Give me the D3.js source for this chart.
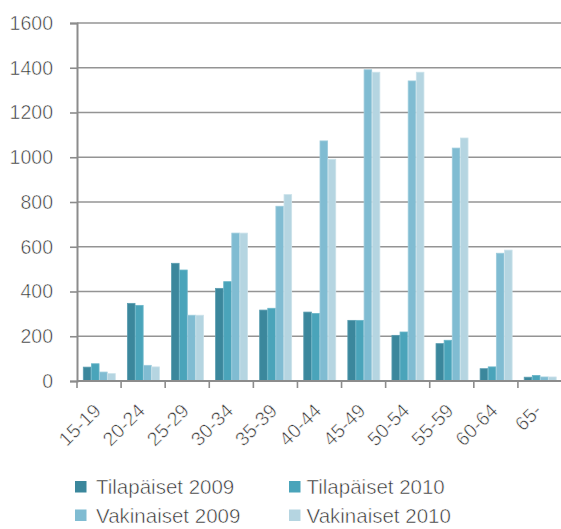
<!DOCTYPE html>
<html>
<head>
<meta charset="utf-8">
<script src="https://cdn.jsdelivr.net/npm/d3@7"></script>
<style>
  html, body { margin: 0; padding: 0; background: #fff; }
  svg { display: block; }
  /* light-looking labels: white outline drawn over the fill thins the glyph strokes */
  text { font-family: "Liberation Sans", Arial, sans-serif; fill: #2f2f2f; stroke: #fff; stroke-width: 0.55px; }
</style>
</head>
<body>
<svg id="chart" width="561" height="529"></svg>
<script>
// Age groups
const categories = ["15-19", "20-24", "25-29", "30-34", "35-39", "40-44", "45-49", "50-54", "55-59", "60-64", "65-"];

// Series names
const seriesNames = ["Tilapäiset 2009", "Tilapäiset 2010", "Vakinaiset 2009", "Vakinaiset 2010"];

// Values per series, in age-group order
const tilapaiset2009 = [62, 347, 526, 414, 317, 308, 271, 204, 167, 55, 17];
const tilapaiset2010 = [77, 338, 496, 444, 325, 302, 271, 219, 182, 63, 25];
const vakinaiset2009 = [40, 70, 294, 661, 781, 1073, 1391, 1341, 1041, 571, 18];
const vakinaiset2010 = [33, 63, 294, 661, 833, 991, 1380, 1380, 1086, 585, 18];

// Y axis ticks
const yTicks = [0, 200, 400, 600, 800, 1000, 1200, 1400, 1600];

const seriesColors = ["#3b879c", "#4aa4ba", "#80bcd2", "#b5d5e1"];
const seriesEdges  = ["#5b9db0", "#6ab6c9", "#9ccbdc", "#cbe2ea"];

const seriesValues = [tilapaiset2009, tilapaiset2010, vakinaiset2009, vakinaiset2010];

const svg = d3.select("#chart");

const plotLeft = 77, plotRight = 562, plotTop = 23, plotBottom = 381;

const x = d3.scaleBand()
  .domain(categories)
  .range([plotLeft, plotRight])
  .paddingInner(0.263)
  .paddingOuter(0.1315);

const xs = d3.scaleBand()
  .domain(seriesNames)
  .range([0, x.bandwidth()]);

const y = d3.scaleLinear()
  .domain([0, 1600])
  .range([plotBottom, plotTop]);

// Horizontal gridlines
svg.append("g")
  .selectAll("line")
  .data(yTicks.filter(t => t > 0))
  .join("line")
  .attr("x1", plotLeft)
  .attr("x2", 561)
  .attr("y1", d => y(d))
  .attr("y2", d => y(d))
  .attr("stroke", "#949494")
  .attr("stroke-width", 1.6);

// Bars
const groups = svg.append("g")
  .selectAll("g")
  .data(categories)
  .join("g")
  .attr("transform", d => `translate(${x(d)},0)`);

groups.selectAll("rect")
  .data((c, i) => seriesNames.map((s, k) => ({ s, k, v: seriesValues[k][i] })))
  .join("rect")
  .attr("x", d => xs(d.s) + 0.5)
  .attr("width", xs.bandwidth() - 0.5)
  .attr("y", d => y(d.v))
  .attr("height", d => y(0) - y(d.v))
  .attr("fill", d => seriesColors[d.k])
  .attr("stroke", d => seriesEdges[d.k])
  .attr("stroke-width", 0.8);

// Y axis
const yAxis = d3.axisLeft(y)
  .tickValues(yTicks)
  .tickSize(7)
  .tickPadding(17)
  .tickFormat(d3.format("d"));

const gy = svg.append("g")
  .attr("transform", `translate(${plotLeft},0)`)
  .call(yAxis)
  .attr("font-family", null)
  .attr("font-size", null);
gy.select(".domain").attr("stroke", "#8c8c8c").attr("stroke-width", 2);
gy.selectAll(".tick line").attr("stroke", "#8c8c8c").attr("stroke-width", 1.6);
gy.selectAll(".tick text")
  .attr("font-size", "19.5px")
  .attr("fill", null);

// X axis: ticks at category boundaries
const boundaries = categories.map(c => x(c) - x.step() * x.paddingOuter());
svg.append("line")
  .attr("x1", plotLeft)
  .attr("x2", 561)
  .attr("y1", plotBottom)
  .attr("y2", plotBottom)
  .attr("stroke", "#8c8c8c")
  .attr("stroke-width", 2);

svg.append("g")
  .selectAll("line")
  .data(boundaries)
  .join("line")
  .attr("x1", d => d)
  .attr("x2", d => d)
  .attr("y1", plotBottom)
  .attr("y2", plotBottom + 7)
  .attr("stroke", "#8c8c8c")
  .attr("stroke-width", 1.6);

// Rotated category labels
svg.append("g")
  .selectAll("text")
  .data(categories)
  .join("text")
  .attr("transform", d => `translate(${x(d) + x.bandwidth() / 2 + 3},${plotBottom + 31}) rotate(-45)`)
  .attr("text-anchor", "end")
  .attr("font-size", "19.5px")
  .text(d => d);

// Legend
const legendPos = [
  { sx: 75, tx: 96, y: 487 },
  { sx: 289, tx: 306.5, y: 487 },
  { sx: 75, tx: 96, y: 515.5 },
  { sx: 289, tx: 306.5, y: 515.5 }
];

const legend = svg.append("g")
  .selectAll("g")
  .data(seriesNames)
  .join("g");

legend.append("rect")
  .attr("x", (d, i) => legendPos[i].sx)
  .attr("y", (d, i) => legendPos[i].y - 6)
  .attr("width", 11.5)
  .attr("height", 11.5)
  .attr("fill", (d, i) => seriesColors[i]);

legend.append("text")
  .attr("x", (d, i) => legendPos[i].tx)
  .attr("y", (d, i) => legendPos[i].y + 7)
  .attr("font-size", "20.5px")
  .text(d => d);
</script>
</body>
</html>
